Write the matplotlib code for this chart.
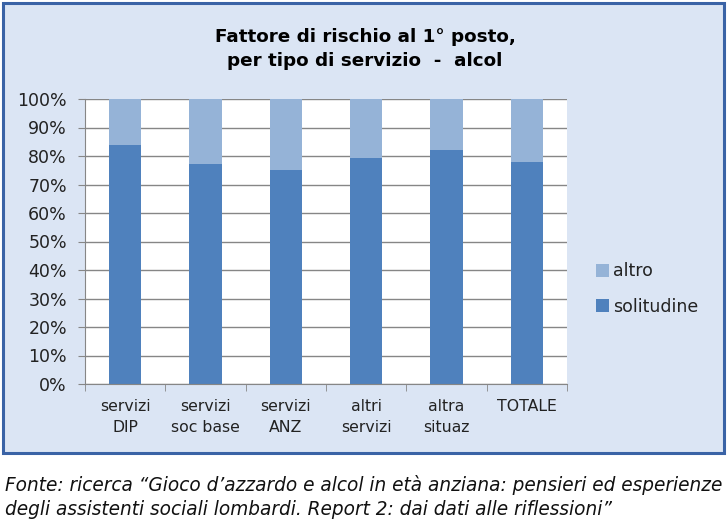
import numpy as np
import matplotlib.pyplot as plt
from matplotlib.patches import Rectangle
from matplotlib.ticker import FixedLocator

categories = ['servizi\nDIP', 'servizi\nsoc base', 'servizi\nANZ', 'altri\nservizi', 'altra\nsituaz', 'TOTALE']
solitudine = [84, 77.3, 75, 79.4, 82, 78]
altro = [100 - v for v in solitudine]
yticks = np.arange(0, 101, 10)

plt.rcParams['font.family'] = ['DejaVu Sans']

fig = plt.figure(figsize=(7.28, 5.26), dpi=100)
W, H = 728, 526

# framed panel behind the chart
fig.patches.append(Rectangle((3 / W, 1 - 453 / H), 721 / W, 450 / H,
                             transform=fig.transFigure, facecolor='#DBE5F4',
                             edgecolor='#3A63A6', linewidth=2.2, zorder=-1))

ax = fig.add_axes([85 / W, 1 - 384 / H, 482 / W, 285 / H])
ax.set_facecolor('white')
x = np.arange(len(categories))
ax.bar(x, solitudine, width=0.4, color='#4F81BD', label='solitudine', zorder=3)
ax.bar(x, altro, width=0.4, bottom=solitudine, color='#95B3D7', label='altro', zorder=3)

ax.set_xlim(-0.5, len(categories) - 0.5)
ax.set_ylim(0, 100)
ax.set_yticks(yticks)
ax.set_yticklabels([f'{v}%' for v in yticks], fontsize=12.5, color='#222222')
ax.set_xticks(x)
ax.set_xticklabels(categories, fontsize=11.3, color='#222222', linespacing=1.45)
ax.tick_params(axis='x', length=0, pad=11)
ax.xaxis.set_minor_locator(FixedLocator(np.arange(-0.5, len(categories), 1)))
ax.tick_params(axis='x', which='minor', length=5, color='#868686')
ax.tick_params(axis='y', length=5, color='#868686', pad=8)
ax.grid(axis='y', color='#868686', linewidth=1)
ax.set_axisbelow(True)
for s in ['top', 'right']:
    ax.spines[s].set_visible(False)
for s in ['left', 'bottom']:
    ax.spines[s].set_color('#868686')
    ax.spines[s].set_zorder(4)

handles, labels = ax.get_legend_handles_labels()
fig.legend(handles[::-1], labels[::-1], loc='center left', bbox_to_anchor=(580 / W, 1 - 289 / H),
           frameon=False, fontsize=12.5, handlelength=0.75, handleheight=0.75,
           handletextpad=0.25, labelspacing=1.0, labelcolor='#222222')

fig.text(365 / W, 1 - 49 / H, 'Fattore di rischio al 1° posto,\nper tipo di servizio  -  alcol',
         ha='center', va='center', fontsize=13.2, fontweight='bold', linespacing=1.5, color='black')

fig.text(5 / W, 1 - 497 / H,
         'Fonte: ricerca “Gioco d’azzardo e alcol in età anziana: pensieri ed esperienze\n'
         'degli assistenti sociali lombardi. Report 2: dai dati alle riflessioni”',
         ha='left', va='center', fontsize=13.35, style='italic', linespacing=1.3, color='#111111')

fig.savefig('out.png', dpi=100)
